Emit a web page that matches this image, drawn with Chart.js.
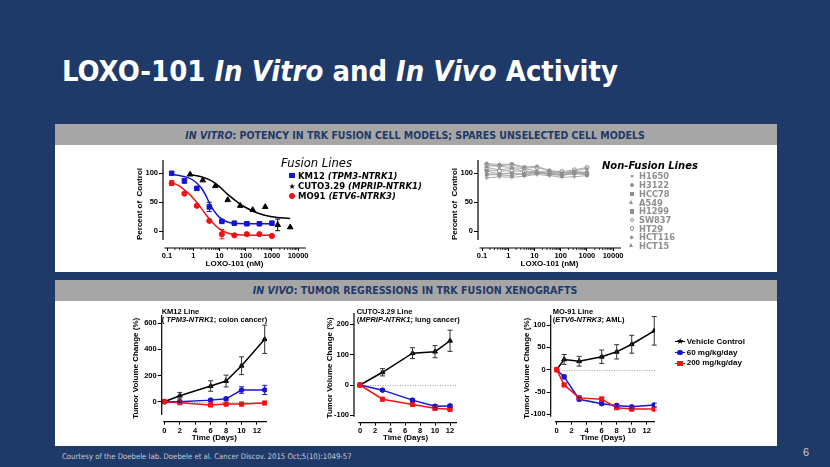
<!DOCTYPE html>
<html><head><meta charset="utf-8">
<script src="https://cdn.jsdelivr.net/npm/chart.js@4.4.1/dist/chart.umd.min.js"></script>
<style>
html,body{margin:0;padding:0}
body{width:830px;height:467px;background:#1f3968;position:relative;overflow:hidden}
.a{position:absolute;white-space:nowrap}
.bar{position:absolute;background:#a6a6a6;left:55px;width:722px;height:21px}
.panel{position:absolute;background:#fff;left:55px;width:722px}
canvas{position:absolute}
</style></head><body>
<div class="bar" style="top:124px"></div>
<div class="panel" style="top:145px;height:127px"></div>
<div class="bar" style="top:280px"></div>
<div class="panel" style="top:301px;height:145px"></div>
<canvas id="c1" width="200" height="122" style="left:130px;top:150px"></canvas>
<canvas id="c2" width="200" height="122" style="left:445px;top:150px"></canvas>
<canvas id="c3" width="150" height="143" style="left:130px;top:303px"></canvas>
<canvas id="c4" width="150" height="143" style="left:320px;top:303px"></canvas>
<canvas id="c5" width="150" height="143" style="left:510px;top:303px"></canvas>
<script>
// ---------- DATA ----------
// In vitro: fusion lines (dose in nM, % of control)
const doseKM = [0.15, 0.46, 1.37, 4.1, 12.3, 37, 111, 333, 1000];
const km12Y   = [100, 87, 74, 42, 17, 14, 13, 13, 14];
const km12Err = [2, 4, 3, 8, 2, 2, 2, 2, 2];
const mo91Y   = [83, 65, 44, 18, -5, -7, -5, -5, -8];
const mo91Err = [4, 2, 2, 2, 8, 2, 2, 2, 2];
const doseCU  = [0.76, 2.3, 6.9, 20.6, 62, 185, 556, 1667, 5000];
const cutoY   = [98, 88, 78, 54, 44, 37, 42, 11, 7];
const cutoErr = [0, 0, 0, 0, 0, 0, 0, 10, 0];
// fitted curves
const km12FitX = [0.15, 0.3, 0.6, 1, 2, 3, 4, 6, 10, 20, 50, 1000];
const km12FitY = [98, 96, 93, 88, 75, 62, 50, 36, 24, 16, 13.5, 13];
const mo91FitX = [0.15, 0.3, 0.6, 1, 2, 3, 5, 10, 20, 50, 1000];
const mo91FitY = [84, 78, 67, 57, 40, 29, 17, 4, -3, -6, -7];
const cutoFitX = [0.76, 2, 5, 10, 20, 50, 100, 300, 1000, 5000];
const cutoFitY = [98, 94, 87, 77, 64, 50, 41, 31, 25, 22];
// In vitro: non-fusion lines
const nonFusionNames = ['H1650','H3122','HCC78','A549','H1299','SW837','HT29','HCT116','HCT15'];
const H1650  = [117, 115, 116, 111, 112, 105, 101, 104, 108];
const H3122  = [104, 99, 100, 98, 101, 99, 98, 100, 97];
const HCC78  = [113, 112, 110, 108, 104, 102, 100, 103, 101];
const A549   = [100, 97, 96, 100, 103, 97, 98, 99, 100];
const H1299  = [92, 94, 93, 95, 98, 96, 93, 94, 96];
const SW837  = [115, 113, 115, 109, 110, 104, 103, 106, 110];
const HT29   = [106, 104, 104, 103, 100, 100, 101, 101, 99];
const HCT116 = [110, 106, 108, 104, 102, 100, 97, 102, 101];
const HCT15  = [97, 98, 101, 97, 100, 99, 96, 100, 103];
const nonFusion = [H1650, H3122, HCC78, A549, H1299, SW837, HT29, HCT116, HCT15];
// In vivo (days, tumor volume change %)
const daysKM = [0, 2, 6, 8, 10, 13];
const kmVeh = [0, 46, 120, 158, 275, 477];     const kmVehErr = [0, 25, 40, 45, 68, 108];
const km60  = [0, 0, 12, 22, 89, 90];          const km60Err  = [0, 5, 10, 12, 25, 35];
const km200 = [0, -8, -25, -18, -18, -10];     const km200Err = [0, 4, 6, 5, 5, 5];
const daysCU = [0, 3, 7, 10, 12];
const cuVeh = [0, 42, 105, 110, 146];          const cuVehErr = [0, 12, 18, 20, 35];
const cu60  = [0, -17, -50, -70, -69];         const cu60Err  = [0, 4, 5, 5, 5];
const cu200 = [0, -47, -64, -77, -80];         const cu200Err = [0, 4, 5, 5, 5];
const daysMO = [0, 1, 3, 6, 8, 10, 13];
const moVeh = [0, 23, 19, 29, 40, 57, 87];     const moVehErr = [0, 11, 11, 15, 16, 20, 32];
const mo60  = [0, -16, -66, -76, -80, -83, -79]; const mo60Err = [0, 4, 4, 3, 3, 3, 4];
const mo200 = [0, -34, -63, -66, -85, -88, -88]; const mo200Err = [0, 3, 4, 5, 3, 3, 3];
// tick labels
const logTicks = [0.1, 1, 10, 100, 1000, 10000];
const pctTicks = [0, 50, 100];
const dayTicks = [0, 2, 4, 6, 8, 10, 12];
const kmYTicks = [0, 200, 400, 600];
const cuYTicks = [-100, 0, 100, 200];
const moYTicks = [-100, -50, 0, 50, 100];

// ---------- HELPERS ----------
const F = "'Liberation Sans', Arial, sans-serif";
const DV = "'DejaVu Sans', Verdana, sans-serif";
const BLUE = '#1414d2', RED = '#f01414', GRAY = '#8f8f8f';
const fnt = (size, weight='bold') => ({family: F, size, weight});
const xy = (xs, ys) => xs.map((x, i) => ({x, y: ys[i]}));
const minorLog = [];
for (let e = -1; e < 4; e++) for (let m = 2; m <= 9; m++) minorLog.push(m * Math.pow(10, e));

const prism = {
  id: 'prism',
  beforeDatasetsDraw(ch, a, o) {
    if (!o || !o.zero) return;
    const {ctx, scales: {x, y}} = ch;
    const py = Math.round(y.getPixelForValue(0)) + 0.5;
    ctx.save(); ctx.strokeStyle = '#a0a0a0'; ctx.lineWidth = 1; ctx.setLineDash([1, 1.5]);
    ctx.beginPath(); ctx.moveTo(x.getPixelForValue(o.zero[0]), py); ctx.lineTo(x.getPixelForValue(o.zero[1]), py);
    ctx.stroke(); ctx.restore();
  },
  afterDraw(ch, a, o) {
    const {ctx, chartArea: r, scales: {x, y}} = ch;
    ctx.save(); ctx.strokeStyle = '#000'; ctx.lineWidth = 1.2;
    ctx.beginPath();
    ctx.moveTo(r.left, r.top); ctx.lineTo(r.left, y.getPixelForValue(o.yLineMin));
    ctx.moveTo(x.getPixelForValue(o.xLineMin), r.bottom); ctx.lineTo(r.right, r.bottom);
    ctx.stroke();
    if (o.minor) {
      ctx.lineWidth = 0.8; ctx.beginPath();
      o.minor.forEach(v => { const px = x.getPixelForValue(v); ctx.moveTo(px, r.bottom); ctx.lineTo(px, r.bottom + 2); });
      ctx.stroke();
    }
    ctx.restore();
  }
};
const errbars = {
  id: 'errbars',
  afterDatasetsDraw(ch) {
    const {ctx} = ch, ys = ch.scales.y;
    ch.data.datasets.forEach((ds, i) => {
      if (!ds.errors) return;
      const meta = ch.getDatasetMeta(i);
      ctx.save(); ctx.strokeStyle = ds.errColor || ds.borderColor; ctx.lineWidth = 1;
      meta.data.forEach((pt, j) => {
        const e = ds.errors[j]; if (!e) return;
        const v = ds.data[j].y;
        const t = ys.getPixelForValue(v + e), b = ys.getPixelForValue(v - e);
        ctx.beginPath();
        ctx.moveTo(pt.x, t); ctx.lineTo(pt.x, b);
        ctx.moveTo(pt.x - 2.5, t); ctx.lineTo(pt.x + 2.5, t);
        ctx.moveTo(pt.x - 2.5, b); ctx.lineTo(pt.x + 2.5, b);
        ctx.stroke();
      });
      ctx.restore();
    });
  }
};

function mkChart(id, c) {
  return new Chart(document.getElementById(id), {
    type: 'line',
    data: {datasets: c.datasets},
    options: {
      responsive: false, animation: false, devicePixelRatio: 1,
      layout: {padding: {top: c.top, right: c.right, left: 0, bottom: 0}},
      plugins: {legend: {display: false}, tooltip: {enabled: false}, prism: c.prism},
      scales: {
        x: {
          type: c.xtype, min: c.xmin, max: c.xmax,
          afterFit: s => { s.height = c.xh; },
          afterBuildTicks: s => { s.ticks = c.xticks.map(v => ({value: v})); },
          border: {display: false},
          grid: {display: true, drawOnChartArea: false, drawTicks: true, tickLength: 3, color: '#000', lineWidth: 1},
          ticks: {font: fnt(c.tickSize), color: '#000', padding: c.xtickPad, maxRotation: 0, autoSkip: false, callback: v => String(v)},
          title: {display: true, text: c.xtitle, font: fnt(c.titleSize), color: '#000', padding: {top: 0, bottom: c.xtitlePad}}
        },
        y: {
          type: 'linear', min: c.ymin, max: c.ymax,
          afterFit: s => { s.width = c.yw; },
          afterBuildTicks: s => { s.ticks = c.yticks.map(v => ({value: v})); },
          border: {display: false},
          grid: {display: true, drawOnChartArea: false, drawTicks: true, tickLength: 4, color: '#000', lineWidth: 1},
          ticks: {font: fnt(c.tickSize), color: '#000', padding: 1, autoSkip: false, callback: v => String(v)},
          title: {display: true, text: c.ytitle, font: fnt(c.titleSize), color: '#000', padding: {top: c.ytitlePad, bottom: 0}}
        }
      }
    },
    plugins: [prism, errbars]
  });
}
const curve = (xs, ys, col) => ({data: xy(xs, ys), borderColor: col, borderWidth: 1.5, pointRadius: 0, cubicInterpolationMode: 'monotone', fill: false});
const pts = (xs, ys, err, col, style, r) => ({data: xy(xs, ys), errors: err, showLine: false, borderColor: col, backgroundColor: col, pointStyle: style, pointRadius: r, pointBorderWidth: 1});
const grp = (xs, ys, err, col, style, r, ecol) => ({data: xy(xs, ys), errors: err, errColor: ecol, borderColor: col, backgroundColor: col, borderWidth: 1.5, pointStyle: style, pointRadius: r, pointBorderWidth: 1, tension: 0});

const topCommon = {xtype: 'logarithmic', xmin: 0.07, xmax: 20000, ymin: -28.8, ymax: 122.9, top: 10, right: 24, yw: 33, xh: 24,
  xticks: logTicks, yticks: pctTicks, tickSize: 7.5, titleSize: 8, xtickPad: 0, xtitlePad: 3.9, ytitlePad: 5.2,
  xtitle: 'LOXO-101 (nM)', ytitle: 'Percent of  Control',
  prism: {yLineMin: -15, xLineMin: 0.08, minor: minorLog}};

mkChart('c1', Object.assign({}, topCommon, {datasets: [
  curve(cutoFitX, cutoFitY, '#000'),
  curve(km12FitX, km12FitY, BLUE),
  curve(mo91FitX, mo91FitY, RED),
  pts(doseCU, cutoY, cutoErr, '#000', 'triangle', 3.2),
  pts(doseKM, km12Y, km12Err, BLUE, 'rect', 3.2),
  pts(doseKM, mo91Y, mo91Err, RED, 'circle', 2.6)
]}));

const nfStyles = ['star', 'rect', 'crossRot', 'triangle', 'cross', 'circle', 'circle', 'rectRot', 'triangle'];
mkChart('c2', Object.assign({}, topCommon, {datasets: nonFusion.map((arr, i) => ({
  data: xy(doseKM, arr), borderColor: '#a3a3a3', backgroundColor: (i === 5 || i === 6) ? '#fff' : GRAY,
  pointBorderColor: GRAY, borderWidth: 0.9, pointStyle: nfStyles[i], pointRadius: 2, pointBorderWidth: 1, tension: 0
}))}));

const botCommon = {xtype: 'linear', xticks: dayTicks, tickSize: 7.5, titleSize: 8, xtitle: 'Time (Days)', ytitle: 'Tumor Volume Change (%)', xtitlePad: 3.9};
mkChart('c3', Object.assign({}, botCommon, {xmin: -0.34, xmax: 13.3, ymin: -153, ymax: 663, top: 12, right: 13, yw: 31.7, xh: 24.3,
  yticks: kmYTicks, xtickPad: 1.5, ytitlePad: 1.2, prism: {yLineMin: -102, xLineMin: -0.13, zero: [0, 13.3]},
  datasets: [grp(daysKM, km200, km200Err, RED, 'rect', 3, RED), grp(daysKM, km60, km60Err, BLUE, 'circle', 2.3, BLUE), grp(daysKM, kmVeh, kmVehErr, '#000', 'triangle', 2.8, '#333')]}));
mkChart('c4', Object.assign({}, botCommon, {xmin: -0.8, xmax: 12.93, ymin: -124.4, ymax: 237.6, top: 10, right: 13, yw: 34, xh: 23.3,
  yticks: cuYTicks, xtickPad: 1, ytitlePad: 5.2, prism: {yLineMin: -105, xLineMin: -0.23, zero: [0, 12.9]},
  datasets: [grp(daysCU, cu200, cu200Err, RED, 'rect', 3, RED), grp(daysCU, cu60, cu60Err, BLUE, 'circle', 2.3, BLUE), grp(daysCU, cuVeh, cuVehErr, '#000', 'triangle', 2.8, '#333')]}));
mkChart('c5', Object.assign({}, botCommon, {xmin: -0.79, xmax: 13.1, ymin: -116.3, ymax: 122.4, top: 12, right: 3.3, yw: 40.7, xh: 24.3,
  yticks: moYTicks, xtickPad: 1.5, ytitlePad: 12.2, prism: {yLineMin: -105, xLineMin: -0.22, zero: [0, 13.2]},
  datasets: [grp(daysMO, mo200, mo200Err, RED, 'rect', 3, RED), grp(daysMO, mo60, mo60Err, BLUE, 'circle', 2.3, BLUE), grp(daysMO, moVeh, moVehErr, '#000', 'triangle', 2.8, '#333')]}));

// ---------- TEXT ----------
function txt(html, x, yc, size, o = {}) {
  const d = document.createElement('div'); d.className = 'a'; d.innerHTML = html;
  d.style.font = `${o.style || 'normal'} ${o.weight || 'bold'} ${size}px ${o.family || F}`;
  d.style.lineHeight = '1'; d.style.color = o.color || '#000';
  document.body.appendChild(d);
  if (o.fitW) { const w = d.getBoundingClientRect().width; size = size * o.fitW / w; d.style.fontSize = size + 'px'; }
  const w = d.getBoundingClientRect().width;
  d.style.left = (o.center ? x - w / 2 : x) + 'px';
  d.style.top = (yc - 0.49 * size) + 'px';
  d.fs = size;
  return d;
}
function marker(x, y, shape, col, line, s = 6) {
  if (line) { const l = document.createElement('div'); l.className = 'a'; Object.assign(l.style, {left: (x - 5) + 'px', top: (y - 0.75) + 'px', width: '10px', height: '1.5px', background: col}); document.body.appendChild(l); }
  const m = document.createElement('div'); m.className = 'a';
  if (shape === 'tri') Object.assign(m.style, {left: (x - s * 0.6) + 'px', top: (y - s * 0.6) + 'px', width: 0, height: 0, borderLeft: (s * 0.6) + 'px solid transparent', borderRight: (s * 0.6) + 'px solid transparent', borderBottom: s + 'px solid ' + col});
  else if (shape === 'star') { m.textContent = '★'; Object.assign(m.style, {left: (x - s * 0.55) + 'px', top: (y - s * 0.62) + 'px', font: `${s * 1.25}px 'DejaVu Sans'`, lineHeight: '1', color: col}); }
  else if (shape === 'ring') Object.assign(m.style, {left: (x - s / 2) + 'px', top: (y - s / 2) + 'px', width: (s - 2) + 'px', height: (s - 2) + 'px', border: '1px solid ' + col, borderRadius: '50%'});
  else if (shape === 'diamond') Object.assign(m.style, {left: (x - s / 2.8) + 'px', top: (y - s / 2.8) + 'px', width: (s / 1.4) + 'px', height: (s / 1.4) + 'px', background: col, transform: 'rotate(45deg)'});
  else Object.assign(m.style, {left: (x - s / 2) + 'px', top: (y - s / 2) + 'px', width: s + 'px', height: s + 'px', background: col, borderRadius: shape === 'circle' ? '50%' : '0'});
  document.body.appendChild(m);
}
const COND = "'DejaVu Sans Condensed', 'DejaVu Sans', sans-serif";
txt('LOXO-101 <i>In Vitro</i> and <i>In Vivo</i> Activity', 62, 71, 30, {family: COND, color: '#fff', fitW: 556});
txt('<i>IN VITRO</i>: POTENCY IN TRK FUSION CELL MODELS; SPARES UNSELECTED CELL MODELS', 415, 135, 11, {family: COND, color: '#1f3968', fitW: 460, center: true});
txt('<i>IN VIVO</i>: TUMOR REGRESSIONS IN TRK FUSION XENOGRAFTS', 415, 290.5, 11, {family: COND, color: '#1f3968', fitW: 325, center: true});
txt('Courtesy of the Doebele lab. Doebele et al. Cancer Discov. 2015 Oct;5(10):1049-57', 62, 457, 9, {family: COND, weight: 'normal', color: '#c8ccd8', fitW: 290});
txt('6', 806, 452, 11, {weight: 'normal', color: '#d0d0d0', center: true});

// fusion legend
txt('<i>Fusion Lines</i>', 281, 163.5, 11, {weight: 'normal', family: DV, fitW: 71});
const cu = txt('CUTO3.29 <i>(MPRIP-NTRK1)</i>', 298, 186, 9, {family: DV, fitW: 124});
const lfs = cu.fs;
marker(292, 175.7, 'rect', BLUE, false, 5.5); txt('KM12 <i>(TPM3-NTRK1)</i>', 298, 175.7, lfs, {family: DV});
marker(292, 186, 'star', '#000', false, 6.5);
marker(292, 196.3, 'circle', RED, false, 6); txt('MO91 <i>(ETV6-NTRK3)</i>', 298, 196.3, lfs, {family: DV});
// non-fusion legend
txt('<i>Non-Fusion Lines</i>', 602, 166, 11, {family: DV, fitW: 96});
const probe = txt('HCT116', -200, -50, 9, {family: DV, fitW: 36});
const nfs = probe.fs;
const nfMk = ['star', 'circle', 'rect', 'tri', 'rect', 'ring', 'ring', 'diamond', 'tri'];
nonFusionNames.forEach((n, i) => {
  const y = 176.5 + 8.7 * i;
  marker(632, y, nfMk[i], GRAY, false, 4.5);
  txt(n, 639, y, nfs, {color: GRAY, family: DV});
});
// in vivo labels
txt('KM12 Line', 161.7, 311.5, 7.5); txt('( <i>TPM3-NTRK1</i>; colon cancer)', 161.7, 320, 7.5);
txt('CUTO-3.29 Line', 356.7, 311.5, 7.5); txt('(<i>MPRIP-NTRK1</i>; lung cancer)', 356.7, 320, 7.5);
txt('MO-91 Line', 552.7, 311.5, 7.5); txt('(<i>ETV6-NTRK3</i>; AML)', 552.7, 320, 7.5);
marker(680, 341.7, 'star', '#000', true, 7); txt('Vehicle Control', 686.7, 341.7, 8);
marker(680, 352.7, 'circle', BLUE, true, 5.5); txt('60 mg/kg/day', 686.7, 352.7, 8);
marker(680, 363.3, 'rect', RED, true, 5.5); txt('200 mg/kg/day', 686.7, 363.3, 8);
</script>
</body></html>
